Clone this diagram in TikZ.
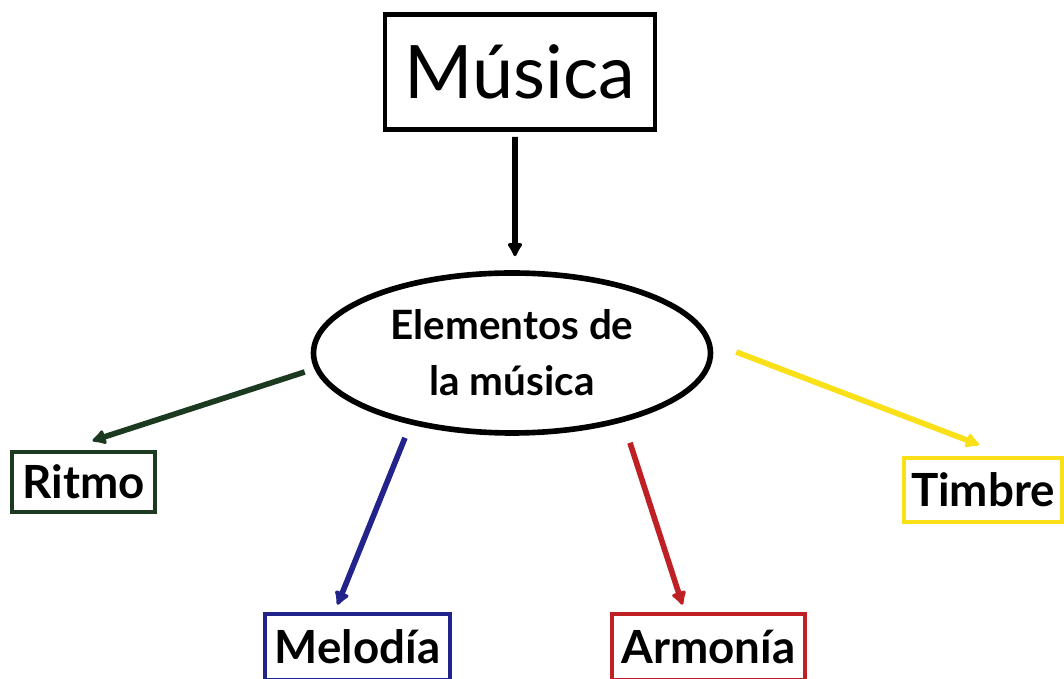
\documentclass[tikz,border=0pt]{standalone}
\usepackage{fontspec}
\setmainfont{Lato}
\usepackage{xcolor}
\usetikzlibrary{shapes, arrows.meta, positioning, calc}

\definecolor{ritmogreen}{RGB}{28,58,32}
\definecolor{melblue}{RGB}{35,35,140}
\definecolor{armred}{RGB}{190,32,36}
\definecolor{timyellow}{RGB}{250,224,24}

\begin{document}
\begin{tikzpicture}[
  box/.style={draw, line width=1.3pt, inner sep=0pt, font=\fontsize{13}{15}\selectfont\bfseries},
  link/.style={line width=1.6pt, -{Latex[round,length=0.16cm,width=0.18cm]}}
]
  \useasboundingbox[fill=white] (0,0) rectangle (10.64,-6.79);

  % Main nodes
  \node[draw, line width=1.4pt, minimum width=2.70cm, minimum height=1.15cm,
        font=\fontsize{21}{24}\selectfont] (musica) at (5.20,-0.72) {Música};
  \node[draw, ellipse, line width=1.6pt, minimum width=3.97cm, minimum height=1.60cm,
        inner sep=0pt, align=center, font=\fontsize{11.5}{16}\selectfont\bfseries] (elem) at (5.12,-3.53)
        {Elementos de\\la música};

  % Elements
  \node[box, ritmogreen, text=black, minimum width=1.43cm, minimum height=0.60cm] (ritmo) at (0.835,-4.82) {Ritmo};
  \node[box, melblue, text=black, minimum width=1.85cm, minimum height=0.66cm] (melodia) at (3.575,-6.47) {Melodía};
  \node[box, armred, text=black, minimum width=1.93cm, minimum height=0.66cm] (armonia) at (7.085,-6.47) {Armonía};
  \node[box, timyellow, text=black, minimum width=1.58cm, minimum height=0.64cm] (timbre) at (9.83,-4.90) {Timbre};

  % Arrows
  \draw[link] ([xshift=-0.05cm,yshift=-0.05cm]musica.south) -- ([xshift=0.03cm,yshift=0.14cm]elem.north);
  \draw[link, ritmogreen] ([xshift=-0.06cm,yshift=-0.19cm]elem.west) -- ([xshift=0.09cm,yshift=0.09cm]ritmo.north);
  \draw[link, melblue] ([xshift=-1.07cm,yshift=-0.02cm]elem.south) -- ([xshift=-0.20cm,yshift=0.07cm]melodia.north);
  \draw[link, armred] ([xshift=1.18cm,yshift=-0.07cm]elem.south) -- ([xshift=-0.26cm,yshift=0.07cm]armonia.north);
  \draw[link, timyellow] ([xshift=0.23cm,yshift=0.01cm]elem.east) -- ([xshift=-0.04cm,yshift=0.11cm]timbre.north);
\end{tikzpicture}
\end{document}
